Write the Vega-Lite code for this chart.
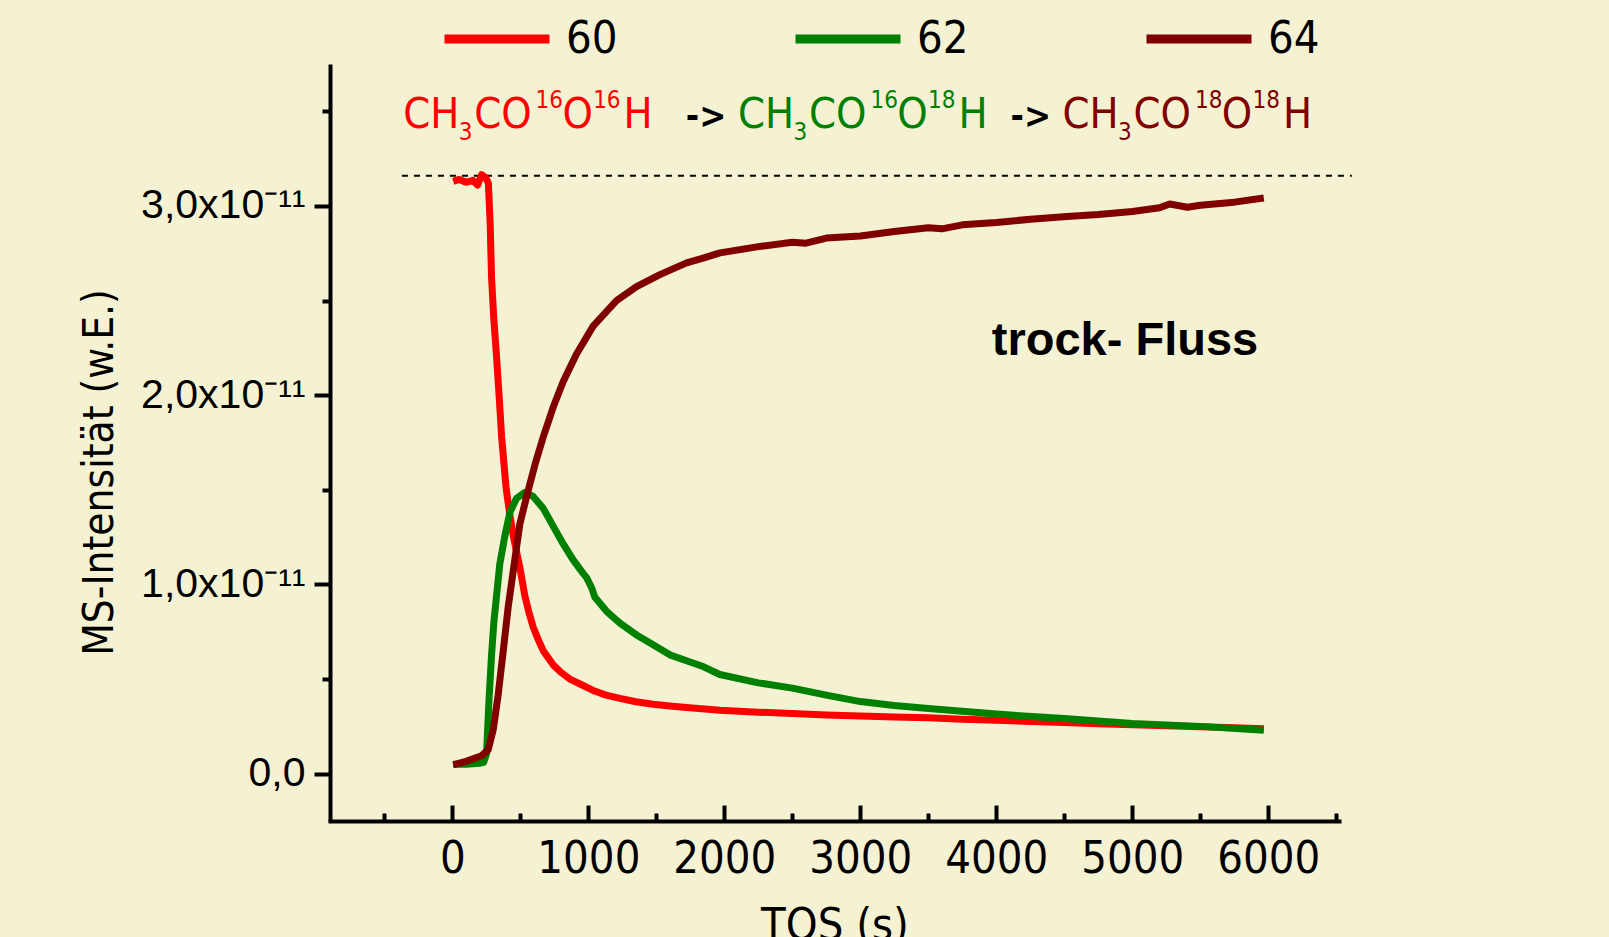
{
  "$schema": "https://vega.github.io/schema/vega-lite/v6.json",
  "width": 1009,
  "height": 757,
  "autosize": {"type": "none"},
  "padding": {"left": 330, "top": 64, "right": 270, "bottom": 116},
  "background": "#F5F2D4",
  "config": {"view": {"stroke": null}, "font": "Liberation Sans"},
  "datasets": {
    "ms": [
      {"s":"60","t":6,"v":3.13e-11},{"s":"60","t":50,"v":3.14e-11},{"s":"60","t":100,"v":3.125e-11},{"s":"60","t":150,"v":3.135e-11},{"s":"60","t":185,"v":3.11e-11},{"s":"60","t":215,"v":3.165e-11},{"s":"60","t":245,"v":3.15e-11},{"s":"60","t":265,"v":3.12e-11},{"s":"60","t":278,"v":2.9e-11},{"s":"60","t":288,"v":2.62e-11},{"s":"60","t":305,"v":2.4e-11},{"s":"60","t":325,"v":2.2e-11},{"s":"60","t":345,"v":1.98e-11},{"s":"60","t":362,"v":1.78e-11},{"s":"60","t":395,"v":1.51e-11},{"s":"60","t":420,"v":1.38e-11},{"s":"60","t":447,"v":1.26e-11},{"s":"60","t":496,"v":1.09e-11},{"s":"60","t":533,"v":0.94e-11},{"s":"60","t":560,"v":0.86e-11},{"s":"60","t":594,"v":0.775e-11},{"s":"60","t":630,"v":0.71e-11},{"s":"60","t":668,"v":0.65e-11},{"s":"60","t":741,"v":0.575e-11},{"s":"60","t":800,"v":0.535e-11},{"s":"60","t":864,"v":0.5e-11},{"s":"60","t":950,"v":0.47e-11},{"s":"60","t":1035,"v":0.44e-11},{"s":"60","t":1130,"v":0.415e-11},{"s":"60","t":1232,"v":0.398e-11},{"s":"60","t":1350,"v":0.38e-11},{"s":"60","t":1476,"v":0.367e-11},{"s":"60","t":1600,"v":0.358e-11},{"s":"60","t":1722,"v":0.35e-11},{"s":"60","t":1967,"v":0.335e-11},{"s":"60","t":2250,"v":0.325e-11},{"s":"60","t":2500,"v":0.318e-11},{"s":"60","t":2750,"v":0.31e-11},{"s":"60","t":3000,"v":0.305e-11},{"s":"60","t":3250,"v":0.3e-11},{"s":"60","t":3500,"v":0.295e-11},{"s":"60","t":3750,"v":0.288e-11},{"s":"60","t":4000,"v":0.282e-11},{"s":"60","t":4250,"v":0.276e-11},{"s":"60","t":4500,"v":0.27e-11},{"s":"60","t":4750,"v":0.264e-11},{"s":"60","t":5000,"v":0.258e-11},{"s":"60","t":5250,"v":0.253e-11},{"s":"60","t":5500,"v":0.248e-11},{"s":"60","t":5750,"v":0.243e-11},{"s":"60","t":5967,"v":0.238e-11},
      {"s":"62","t":6,"v":0.05e-11},{"s":"62","t":100,"v":0.05e-11},{"s":"62","t":200,"v":0.055e-11},{"s":"62","t":230,"v":0.06e-11},{"s":"62","t":251,"v":0.105e-11},{"s":"62","t":270,"v":0.4e-11},{"s":"62","t":288,"v":0.628e-11},{"s":"62","t":305,"v":0.8e-11},{"s":"62","t":325,"v":0.942e-11},{"s":"62","t":349,"v":1.11e-11},{"s":"62","t":386,"v":1.256e-11},{"s":"62","t":423,"v":1.381e-11},{"s":"62","t":472,"v":1.455e-11},{"s":"62","t":533,"v":1.486e-11},{"s":"62","t":594,"v":1.465e-11},{"s":"62","t":668,"v":1.402e-11},{"s":"62","t":741,"v":1.308e-11},{"s":"62","t":815,"v":1.214e-11},{"s":"62","t":888,"v":1.13e-11},{"s":"62","t":960,"v":1.06e-11},{"s":"62","t":987,"v":1.036e-11},{"s":"62","t":1023,"v":0.984e-11},{"s":"62","t":1048,"v":0.932e-11},{"s":"62","t":1134,"v":0.858e-11},{"s":"62","t":1232,"v":0.796e-11},{"s":"62","t":1354,"v":0.733e-11},{"s":"62","t":1476,"v":0.681e-11},{"s":"62","t":1599,"v":0.628e-11},{"s":"62","t":1722,"v":0.597e-11},{"s":"62","t":1844,"v":0.566e-11},{"s":"62","t":1967,"v":0.524e-11},{"s":"62","t":2250,"v":0.48e-11},{"s":"62","t":2500,"v":0.452e-11},{"s":"62","t":2750,"v":0.415e-11},{"s":"62","t":3000,"v":0.381e-11},{"s":"62","t":3250,"v":0.36e-11},{"s":"62","t":3500,"v":0.344e-11},{"s":"62","t":3750,"v":0.33e-11},{"s":"62","t":4000,"v":0.315e-11},{"s":"62","t":4500,"v":0.291e-11},{"s":"62","t":5000,"v":0.265e-11},{"s":"62","t":5500,"v":0.25e-11},{"s":"62","t":5967,"v":0.23e-11},
      {"s":"64","t":6,"v":0.047e-11},{"s":"64","t":100,"v":0.065e-11},{"s":"64","t":215,"v":0.095e-11},{"s":"64","t":263,"v":0.126e-11},{"s":"64","t":300,"v":0.231e-11},{"s":"64","t":337,"v":0.419e-11},{"s":"64","t":374,"v":0.649e-11},{"s":"64","t":410,"v":0.879e-11},{"s":"64","t":447,"v":1.068e-11},{"s":"64","t":496,"v":1.319e-11},{"s":"64","t":546,"v":1.465e-11},{"s":"64","t":607,"v":1.632e-11},{"s":"64","t":668,"v":1.779e-11},{"s":"64","t":741,"v":1.936e-11},{"s":"64","t":815,"v":2.072e-11},{"s":"64","t":913,"v":2.218e-11},{"s":"64","t":1035,"v":2.365e-11},{"s":"64","t":1207,"v":2.5e-11},{"s":"64","t":1354,"v":2.574e-11},{"s":"64","t":1526,"v":2.637e-11},{"s":"64","t":1722,"v":2.699e-11},{"s":"64","t":1844,"v":2.724e-11},{"s":"64","t":1967,"v":2.752e-11},{"s":"64","t":2250,"v":2.785e-11},{"s":"64","t":2500,"v":2.808e-11},{"s":"64","t":2600,"v":2.803e-11},{"s":"64","t":2750,"v":2.83e-11},{"s":"64","t":3000,"v":2.841e-11},{"s":"64","t":3250,"v":2.865e-11},{"s":"64","t":3500,"v":2.885e-11},{"s":"64","t":3600,"v":2.879e-11},{"s":"64","t":3750,"v":2.9e-11},{"s":"64","t":4000,"v":2.912e-11},{"s":"64","t":4250,"v":2.93e-11},{"s":"64","t":4520,"v":2.944e-11},{"s":"64","t":4750,"v":2.955e-11},{"s":"64","t":5000,"v":2.971e-11},{"s":"64","t":5200,"v":2.99e-11},{"s":"64","t":5275,"v":3.01e-11},{"s":"64","t":5405,"v":2.993e-11},{"s":"64","t":5500,"v":3.004e-11},{"s":"64","t":5750,"v":3.02e-11},{"s":"64","t":5967,"v":3.042e-11}
    ],
    "formula": [
      {"s":"60","role":"base","t":-362,"v":3.414e-11,"txt":"CH"},
      {"s":"60","role":"sub","t":46,"v":3.414e-11,"txt":"3"},
      {"s":"60","role":"base","t":160,"v":3.414e-11,"txt":"CO"},
      {"s":"60","role":"sup","t":612,"v":3.414e-11,"txt":"16"},
      {"s":"60","role":"base","t":809,"v":3.414e-11,"txt":"O"},
      {"s":"60","role":"sup","t":1035,"v":3.414e-11,"txt":"16"},
      {"s":"60","role":"base","t":1259,"v":3.414e-11,"txt":"H"},
      {"s":"62","role":"base","t":2101,"v":3.414e-11,"txt":"CH"},
      {"s":"62","role":"sub","t":2509,"v":3.414e-11,"txt":"3"},
      {"s":"62","role":"base","t":2623,"v":3.414e-11,"txt":"CO"},
      {"s":"62","role":"sup","t":3075,"v":3.414e-11,"txt":"16"},
      {"s":"62","role":"base","t":3272,"v":3.414e-11,"txt":"O"},
      {"s":"62","role":"sup","t":3498,"v":3.414e-11,"txt":"18"},
      {"s":"62","role":"base","t":3722,"v":3.414e-11,"txt":"H"},
      {"s":"64","role":"base","t":4487,"v":3.414e-11,"txt":"CH"},
      {"s":"64","role":"sub","t":4895,"v":3.414e-11,"txt":"3"},
      {"s":"64","role":"base","t":5009,"v":3.414e-11,"txt":"CO"},
      {"s":"64","role":"sup","t":5461,"v":3.414e-11,"txt":"18"},
      {"s":"64","role":"base","t":5658,"v":3.414e-11,"txt":"O"},
      {"s":"64","role":"sup","t":5884,"v":3.414e-11,"txt":"18"},
      {"s":"64","role":"base","t":6108,"v":3.414e-11,"txt":"H"}
    ],
    "arrows": [
      {"t":1717,"v":3.414e-11,"txt":"->"},
      {"t":4104,"v":3.414e-11,"txt":"->"}
    ],
    "notes": [
      {"t":3967,"v":2.212e-11,"txt":"trock- Fluss"}
    ],
    "ref": [
      {"t1":-371,"t2":6614,"v":3.16e-11}
    ]
  },
  "layer": [
    {
      "data": {"name": "ref"},
      "mark": {"type": "rule", "color": "black", "strokeWidth": 2, "strokeDash": [6, 6]},
      "encoding": {
        "x": {"field": "t1", "type": "quantitative", "scale": {"domain": [-900, 6520], "nice": false, "zero": false}},
        "x2": {"field": "t2"},
        "y": {"field": "v", "type": "quantitative", "scale": {"domain": [-2.5e-12, 3.75e-11], "nice": false, "zero": false}}
      }
    },
    {
      "data": {"name": "ms"},
      "mark": {"type": "line", "strokeWidth": 7, "strokeJoin": "round"},
      "encoding": {
        "x": {
          "field": "t", "type": "quantitative",
          "scale": {"domain": [-900, 6520], "nice": false, "zero": false},
          "axis": {
            "values": [-500, 0, 500, 1000, 1500, 2000, 2500, 3000, 3500, 4000, 4500, 5000, 5500, 6000, 6500],
            "format": "d",
            "labelExpr": "datum.value % 1000 === 0 ? datum.label : ''",
            "grid": false,
            "domainColor": "black", "domainWidth": 4, "domainCap": "square",
            "tickColor": "black", "tickWidth": 4,
            "tickSize": {"condition": {"test": "datum.value % 1000 === 0", "value": -16}, "value": -8},
            "labelFont": "DejaVu Sans Condensed, Liberation Sans Narrow, sans-serif",
            "labelFontSize": 45, "labelColor": "black",
            "labelBaseline": "alphabetic", "labelPadding": 67,
            "labelFlush": false, "labelOverlap": false,
            "title": "TOS (s)",
            "titleFont": "DejaVu Sans Condensed, Liberation Sans Narrow, sans-serif",
            "titleFontSize": 45, "titleFontWeight": "normal", "titleColor": "black",
            "titleBaseline": "alphabetic", "titleY": 118
          }
        },
        "y": {
          "field": "v", "type": "quantitative",
          "scale": {"domain": [-2.5e-12, 3.75e-11], "nice": false, "zero": false},
          "axis": {
            "values": [0, 5e-12, 1e-11, 1.5e-11, 2e-11, 2.5e-11, 3e-11, 3.5e-11],
            "labelExpr": "datum.value < 1e-13 ? '0,0' : (round(datum.value * 2e11) % 2 === 0 ? round(datum.value * 1e11) + ',0x10⁻¹¹' : '')",
            "grid": false,
            "domainColor": "black", "domainWidth": 4,
            "tickColor": "black", "tickWidth": 4,
            "tickSize": {"condition": {"test": "round(datum.value * 2e11) % 2 === 0", "value": 16}, "value": 8},
            "labelFont": "Liberation Sans, Arial, sans-serif",
            "labelFontSize": 41, "labelColor": "black",
            "labelPadding": 9, "labelBaseline": "middle",
            "labelFlush": false, "labelOverlap": false,
            "title": "MS-Intensität (w.E.)",
            "titleFont": "DejaVu Sans Condensed, Liberation Sans Narrow, sans-serif",
            "titleFontSize": 42, "titleFontWeight": "normal", "titleColor": "black",
            "titleAngle": 270, "titleBaseline": "alphabetic", "titleAlign": "center",
            "titleX": -218, "titleY": 408
          }
        },
        "color": {
          "field": "s", "type": "nominal",
          "scale": {"domain": ["60", "62", "64"], "range": ["#FF0000", "#008000", "#800000"]},
          "legend": {
            "orient": "none", "legendX": 110, "legendY": -82,
            "direction": "horizontal", "columns": 3,
            "title": null, "padding": 0,
            "symbolType": "stroke", "symbolSize": 11025, "symbolStrokeWidth": 9,
            "labelFont": "DejaVu Sans Condensed, Liberation Sans Narrow, sans-serif",
            "labelFontSize": 45, "labelColor": "black", "labelOffset": 12, "labelLimit": 0,
            "columnPadding": 159
          }
        }
      }
    },
    {
      "data": {"name": "formula"},
      "transform": [{"filter": "datum.role === 'base'"}],
      "mark": {"type": "text", "align": "left", "baseline": "alphabetic", "fontSize": 43, "font": "DejaVu Sans Condensed, Liberation Sans Narrow, sans-serif"},
      "encoding": {
        "x": {"field": "t", "type": "quantitative", "scale": {"domain": [-900, 6520], "nice": false, "zero": false}},
        "y": {"field": "v", "type": "quantitative", "scale": {"domain": [-2.5e-12, 3.75e-11], "nice": false, "zero": false}},
        "text": {"field": "txt"},
        "color": {"field": "s", "type": "nominal", "legend": null}
      }
    },
    {
      "data": {"name": "formula"},
      "transform": [{"filter": "datum.role === 'sup'"}],
      "mark": {"type": "text", "align": "left", "baseline": "alphabetic", "fontSize": 24, "dy": -20, "font": "DejaVu Sans Condensed, Liberation Sans Narrow, sans-serif"},
      "encoding": {
        "x": {"field": "t", "type": "quantitative", "scale": {"domain": [-900, 6520], "nice": false, "zero": false}},
        "y": {"field": "v", "type": "quantitative", "scale": {"domain": [-2.5e-12, 3.75e-11], "nice": false, "zero": false}},
        "text": {"field": "txt"},
        "color": {"field": "s", "type": "nominal", "legend": null}
      }
    },
    {
      "data": {"name": "formula"},
      "transform": [{"filter": "datum.role === 'sub'"}],
      "mark": {"type": "text", "align": "left", "baseline": "alphabetic", "fontSize": 24, "dy": 12, "font": "DejaVu Sans Condensed, Liberation Sans Narrow, sans-serif"},
      "encoding": {
        "x": {"field": "t", "type": "quantitative", "scale": {"domain": [-900, 6520], "nice": false, "zero": false}},
        "y": {"field": "v", "type": "quantitative", "scale": {"domain": [-2.5e-12, 3.75e-11], "nice": false, "zero": false}},
        "text": {"field": "txt"},
        "color": {"field": "s", "type": "nominal", "legend": null}
      }
    },
    {
      "data": {"name": "arrows"},
      "mark": {"type": "text", "align": "left", "baseline": "alphabetic", "fontSize": 36, "fontWeight": "bold", "color": "black", "font": "DejaVu Sans Condensed, Liberation Sans Narrow, sans-serif"},
      "encoding": {
        "x": {"field": "t", "type": "quantitative", "scale": {"domain": [-900, 6520], "nice": false, "zero": false}},
        "y": {"field": "v", "type": "quantitative", "scale": {"domain": [-2.5e-12, 3.75e-11], "nice": false, "zero": false}},
        "text": {"field": "txt"}
      }
    },
    {
      "data": {"name": "notes"},
      "mark": {"type": "text", "align": "left", "baseline": "alphabetic", "fontSize": 47, "fontWeight": "bold", "color": "black", "font": "Liberation Sans, Arial, sans-serif"},
      "encoding": {
        "x": {"field": "t", "type": "quantitative", "scale": {"domain": [-900, 6520], "nice": false, "zero": false}},
        "y": {"field": "v", "type": "quantitative", "scale": {"domain": [-2.5e-12, 3.75e-11], "nice": false, "zero": false}},
        "text": {"field": "txt"}
      }
    }
  ]
}
